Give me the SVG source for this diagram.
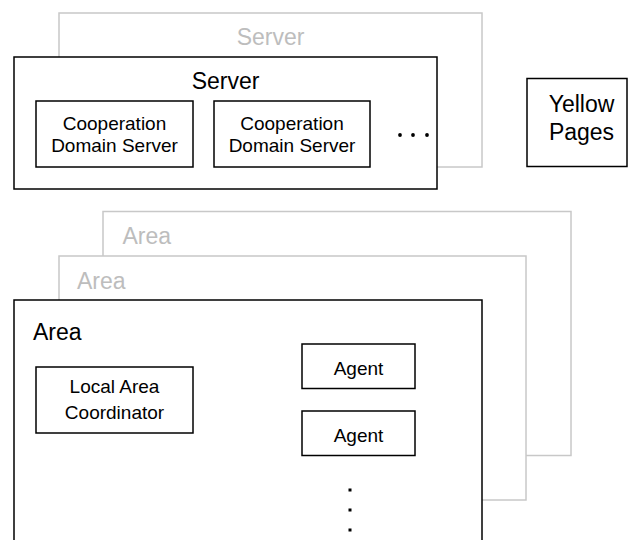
<svg xmlns="http://www.w3.org/2000/svg" width="629" height="540" viewBox="0 0 629 540">
<style>
text{font-family:"Liberation Sans",Arial,Helvetica,sans-serif;fill:#000}
.big{font-size:23px}
.sm{font-size:19px}
.g{fill:#bdbdbd}
.box{fill:#fff;stroke:#000;stroke-width:1.5}
.gbox{fill:#fff;stroke:#c8c8c8;stroke-width:1.5}
.c{text-anchor:middle}
</style>
<rect width="629" height="540" fill="#fff"/>
<g id="server-back">
<rect class="gbox" x="59" y="13" width="423" height="154"/>
<text class="big g c" x="270.5" y="45">Server</text>
</g>
<g id="server">
<rect class="box" x="14" y="57" width="423" height="132"/>
<text class="big c" x="225.5" y="89">Server</text>
</g>
<g id="cds1">
<rect class="box" x="36" y="101" width="157" height="66"/>
<text class="sm c" x="114.5" y="130">Cooperation</text>
<text class="sm c" x="114.5" y="152">Domain Server</text>
</g>
<g id="cds2">
<rect class="box" x="214" y="101" width="156" height="66"/>
<text class="sm c" x="292" y="130">Cooperation</text>
<text class="sm c" x="292" y="152">Domain Server</text>
</g>
<g id="server-more">
<circle cx="400" cy="135" r="1.9"/>
<circle cx="413" cy="135" r="1.9"/>
<circle cx="427" cy="135" r="1.9"/>
</g>
<g id="yellow-pages">
<rect class="box" x="527" y="78.5" width="100" height="88"/>
<text class="big c" x="581.5" y="112">Yellow</text>
<text class="big c" x="581.5" y="140">Pages</text>
</g>
<g id="area-back">
<rect class="gbox" x="103" y="211.5" width="468" height="244"/>
<text class="big g" x="122.5" y="244">Area</text>
</g>
<g id="area-middle">
<rect class="gbox" x="59" y="256" width="467" height="244"/>
<text class="big g" x="77" y="288.5">Area</text>
</g>
<g id="area">
<rect class="box" x="14" y="300" width="468" height="260"/>
<text class="big" x="33" y="340">Area</text>
</g>
<g id="lac">
<rect class="box" x="36" y="367" width="157" height="66"/>
<text class="sm c" x="114.5" y="393">Local Area</text>
<text class="sm c" x="114.5" y="419">Coordinator</text>
</g>
<g id="agent1">
<rect class="box" x="302" y="344" width="113" height="44.5"/>
<text class="sm c" x="358.5" y="374.5">Agent</text>
</g>
<g id="agent2">
<rect class="box" x="302" y="411" width="113" height="44.5"/>
<text class="sm c" x="358.5" y="441.5">Agent</text>
</g>
<g id="agent-more">
<rect x="348.5" y="488.5" width="3" height="3"/>
<rect x="348.5" y="508.5" width="3" height="3"/>
<rect x="348.5" y="528.5" width="3" height="3"/>
</g>
<g id="connectors"/>
</svg>
